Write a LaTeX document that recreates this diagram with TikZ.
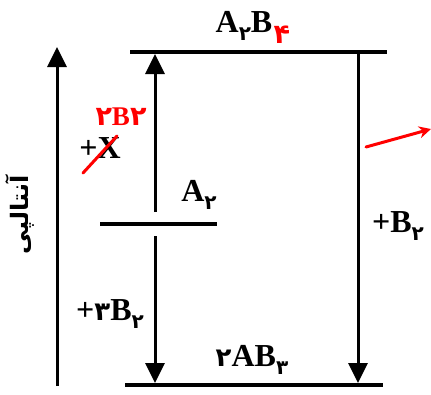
\documentclass[tikz,border=0pt]{standalone}
\usepackage{fontspec}
\setmainfont{Liberation Serif}
\newfontfamily\fafont[Script=Arabic]{DejaVu Sans}
\TeXXeTstate=1
\usetikzlibrary{arrows.meta, positioning}

% Persian digit as a subscript, and as a coefficient
\newcommand{\fsub}[1]{\raisebox{-0.5ex}{\fontsize{20}{20}\selectfont\fafont\bfseries #1}}
\newcommand{\fcoef}[1]{{\fontsize{26}{26}\selectfont\fafont\bfseries #1}}

\begin{document}
\begin{tikzpicture}[
            x=1pt, y=-1pt,
            >={Triangle[length=20pt, width=19pt]},
            % Estilo dos niveis de energia
            level/.style={
                draw=black,
                line width=3.5pt
            },
            % Estilo das setas
            jump/.style={
                draw=black,
                ->,
                line width=3pt
            },
            % Estilo dos rotulos
            species/.style={
                font=\fontsize{32}{32}\selectfont\bfseries,
                inner sep=0pt
            },
            % Correcoes a mao
            pen/.style={
                draw=red,
                line width=3pt,
                line cap=round
            },
            pentext/.style={
                text=red,
                font=\fontsize{27}{27}\selectfont\fafont\bfseries,
                inner sep=0pt
            }
        ]
            \useasboundingbox (0,0) rectangle (431,394);

            % Niveis
            \coordinate (topL) at (130,52);
            \coordinate (topR) at (387,52);
            \coordinate (midL) at (100,224);
            \coordinate (midR) at (217,224);
            \coordinate (botL) at (125,385);
            \coordinate (botR) at (383,385);
            \draw [level] (topL) -- (topR);
            \draw [level] (midL) -- (midR);
            \draw [level] (botL) -- (botR);

            % Eixo da entalpia
            \coordinate (axis0) at (57,386);
            \coordinate (axis1) at (57,47);
            \draw [jump] (axis0) -- (axis1);
            \node [rotate=90, font=\fontsize{24}{24}\selectfont\fafont\bfseries] (enthalpy) at (20,215) {\beginR آنتالپی\endR};

            % Setas entre os niveis
            \coordinate (upS) at (155,212);
            \coordinate (upE) at (155,54);
            \coordinate (dnS) at (155,236);
            \coordinate (dnE) at (155,383);
            \coordinate (rtS) at (358,54);
            \coordinate (rtE) at (358,383);
            \draw [jump] (upS) -- (upE);
            \draw [jump] (dnS) -- (dnE);
            \draw [jump] (rtS) -- (rtE);

            % Rotulos
            \node [species] (a2b4) at (244,26) {A\fsub{۲}B};
            \node [species] (a2) at (199,195) {A\fsub{۲}};
            \node [species] (plusX) at (100,148) {+X};
            \node [species] (plus3B2) at (110,314) {+\fcoef{۳}B\fsub{۲}};
            \node [species] (ab3) at (252,360) {\fcoef{۲}AB\fsub{۳}};
            \node [species] (plusB2) at (398,226) {+B\fsub{۲}};

            % Correcoes em vermelho
            \node [pentext, anchor=west] (sub4) at ([xshift=1pt, yshift=-9pt]a2b4.east) {۴};
            \node [pentext] (fix2B2) at (121,117) {۲\textrm{B}۲};
            \coordinate (slash0) at (83,173);
            \coordinate (slash1) at (117,136);
            \draw [pen] (slash0) -- (slash1);
            \coordinate (red0) at (366,147);
            \coordinate (red1) at (431,129);
            \draw [pen, -{Stealth[length=12pt, width=12pt]}] (red0) -- (red1);

        \end{tikzpicture}
\end{document}
